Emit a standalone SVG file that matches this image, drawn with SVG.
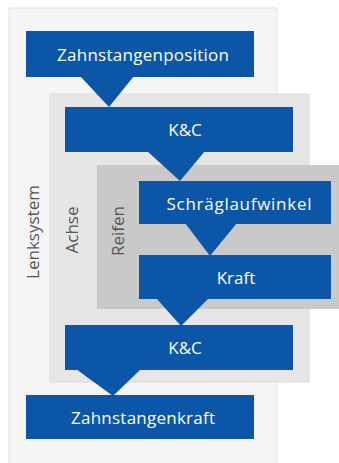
<svg xmlns="http://www.w3.org/2000/svg" width="339" height="463" viewBox="0 0 339 463">
<style>
.box{fill:#0b56a6;}
.lbl{font-family:"Open Sans","Liberation Sans",sans-serif;font-size:17px;fill:#ffffff;text-anchor:middle;}
.grp{font-family:"Open Sans","Liberation Sans",sans-serif;font-size:17px;fill:#555555;text-anchor:middle;}
.tri{fill:#0b56a6;}
</style>
<rect width="339" height="463" fill="#ffffff"/>
<g id="lenksystem">
<rect x="9" y="8" width="268" height="460" fill="#f5f5f5" stroke="#e2e2e2" stroke-width="1"/>
<text class="grp" transform="translate(39,232) rotate(-90)">Lenksystem</text>
</g>
<g id="achse">
<rect x="50" y="94" width="259" height="288" fill="#e6e6e6" stroke="#dcdcdc" stroke-width="1"/>
<text class="grp" transform="translate(78,230) rotate(-90)">Achse</text>
</g>
<g id="reifen">
<rect x="97" y="165" width="245" height="144" fill="#c9c9c9"/>
<text class="grp" transform="translate(124,231) rotate(-90)">Reifen</text>
</g>
<g id="connectors">
<polygon class="tri" points="80,76 134,76 109,107"/>
<polygon class="tri" points="147,151 205,151 180,181"/>
<polygon class="tri" points="185,223 237,223 210,256"/>
<polygon class="tri" points="156,298 209,298 181,326"/>
<polygon class="tri" points="76,369 141,369 113,396"/>
</g>
<g id="zahnstangenposition">
<rect class="box" x="26" y="31" width="228" height="46"/>
<text class="lbl" x="143" y="61" textLength="172">Zahnstangenposition</text>
</g>
<g id="kc1">
<rect class="box" x="65" y="107" width="228" height="45"/>
<text class="lbl" x="185" y="136">K&amp;C</text>
</g>
<g id="schraeglaufwinkel">
<rect class="box" x="139" y="181" width="192" height="43"/>
<text class="lbl" x="239" y="210" textLength="145">Schräglaufwinkel</text>
</g>
<g id="kraft">
<rect class="box" x="139" y="255" width="192" height="44"/>
<text class="lbl" x="236" y="284">Kraft</text>
</g>
<g id="kc2">
<rect class="box" x="65" y="325" width="228" height="45"/>
<text class="lbl" x="185" y="354">K&amp;C</text>
</g>
<g id="zahnstangenkraft">
<rect class="box" x="26" y="395" width="228" height="44"/>
<text class="lbl" x="143" y="424" textLength="144">Zahnstangenkraft</text>
</g>
</svg>
